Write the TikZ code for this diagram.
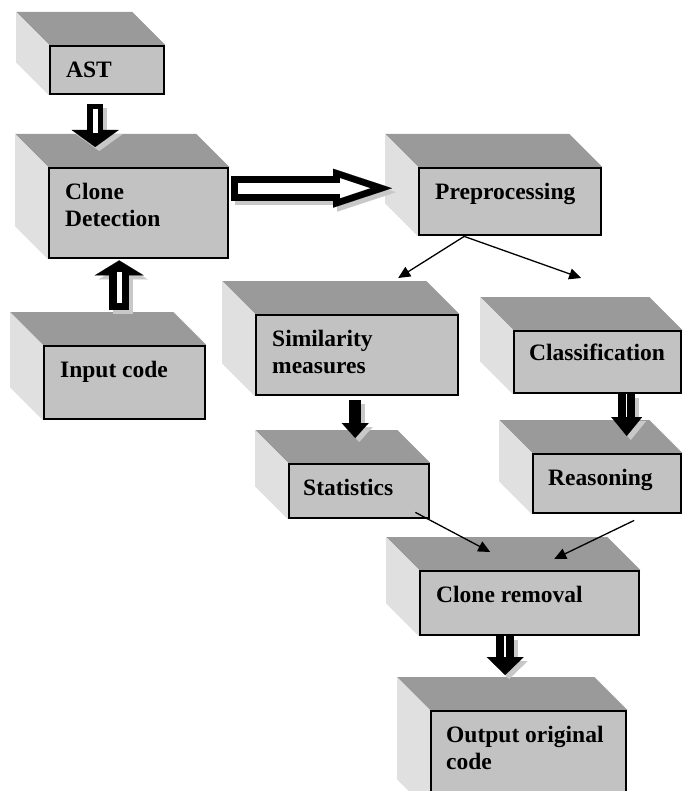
\documentclass[tikz,border=0pt]{standalone}
\usepackage{fontspec}
\setmainfont{Liberation Serif}
\usetikzlibrary{positioning,calc,arrows.meta,backgrounds}
\definecolor{frontgray}{HTML}{C2C2C2}
\definecolor{topgray}{HTML}{9A9A9A}
\definecolor{sidegray}{HTML}{E0E0E0}
\definecolor{shadowgray}{HTML}{C8C8C8}

\begin{document}
\begin{tikzpicture}[x=1pt, y=1pt,
    box/.style={draw=black, line width=2.4pt, fill=frontgray, anchor=north west, inner sep=0pt},
    lbl/.style={font=\fontsize{23.5}{27}\selectfont\bfseries, align=left, inner sep=0pt},
    link/.style={line width=1.3pt, -{Triangle[length=12pt, width=11pt]}},
    ashadow/.style={draw=shadowgray, transform canvas={shift={(4pt,-4pt)}}}]
    \useasboundingbox (0,0) rectangle (682,-791);

    % boxes (front faces)
    \node[box, minimum width=114pt, minimum height=48pt] (ast) at (49,-45) {};
    \node[box, minimum width=179pt, minimum height=90pt] (detect) at (48,-167) {};
    \node[box, minimum width=182pt, minimum height=67pt] (pre) at (418,-167) {};
    \node[box, minimum width=161pt, minimum height=73pt] (input) at (43,-345) {};
    \node[box, minimum width=202pt, minimum height=80pt] (sim) at (255,-314) {};
    \node[box, minimum width=167pt, minimum height=62pt] (class) at (513,-330) {};
    \node[box, minimum width=140pt, minimum height=54pt] (stat) at (288,-463) {};
    \node[box, minimum width=148pt, minimum height=59pt] (reason) at (532,-453) {};
    \node[box, minimum width=219pt, minimum height=64pt] (remove) at (419,-570) {};
    \node[box, minimum width=195pt, minimum height=100pt] (output) at (430,-710) {};

    % top and left sides
    \begin{scope}[on background layer]
    \foreach \b in {ast,detect,pre,input,sim,class,stat,reason,remove,output} {
        \fill[topgray] (\b.north west) -- (\b.north east) -- ([shift={(-33,33)}]\b.north east) -- ([shift={(-33,33)}]\b.north west) -- cycle;
        \fill[sidegray] (\b.north west) -- (\b.south west) -- ([shift={(-33,33)}]\b.south west) -- ([shift={(-33,33)}]\b.north west) -- cycle;
    }
    \end{scope}

    % labels
    \node[lbl, below right=13pt and 17pt of ast.north west] (ast-l) {\strut AST};
    \node[lbl, below right=13pt and 17pt of detect.north west] (detect-l) {\strut Clone\\Detection};
    \node[lbl, below right=13pt and 17pt of pre.north west] (pre-l) {\strut Preprocessing};
    \node[lbl, below right=13pt and 17pt of input.north west] (input-l) {\strut Input code};
    \node[lbl, below right=13pt and 17pt of sim.north west] (sim-l) {\strut Similarity\\measures};
    \node[lbl, below right=11pt and 16pt of class.north west] (class-l) {\strut Classification};
    \node[lbl, below right=13pt and 15pt of stat.north west] (stat-l) {\strut Statistics};
    \node[lbl, below right=13pt and 16pt of reason.north west] (reason-l) {\strut Reasoning};
    \node[lbl, below right=13pt and 17pt of remove.north west] (remove-l) {\strut Clone removal};
    \node[lbl, below right=13pt and 16pt of output.north west] (output-l) {\strut Output original\\code};

    % block arrows
    \coordinate (a1s) at ($(ast.south)+(-12,-9)$);
    \coordinate (a1e) at ($(a1s |- detect.north)+(0,20)$);
    \draw[ashadow, line width=16pt, -{Triangle[length=17pt, width=47pt, line width=0.1pt]}] (a1s) -- (a1e);
    \draw[line width=16pt, -{Triangle[length=17pt, width=47pt, line width=0.1pt]}] (a1s) -- (a1e);
    \draw[white, line width=5pt, shorten <=5pt, shorten >=14pt] (a1s) -- (a1e);

    \coordinate (a2s) at ($(detect.east)+(2,25)$);
    \coordinate (a2e) at ($(a2s -| pre.west)+(-26,0)$);
    \draw[ashadow, line width=25pt, -{Triangle[length=59pt, width=39pt, line width=0.1pt]}] (a2s) -- (a2e);
    \draw[line width=25pt, -{Triangle[length=59pt, width=39pt, line width=0.1pt]}] (a2s) -- (a2e);
    \draw[white, line width=11pt, shorten <=7pt, shorten >=22pt, -{Triangle[length=30pt, width=20pt, line width=0.1pt]}] (a2s) -- (a2e);

    \coordinate (a3s) at ($(input.north)+(-5.5,35)$);
    \coordinate (a3e) at ($(a3s |- detect.south)+(0,-1)$);
    \draw[ashadow, line width=20pt, -{Triangle[length=15pt, width=49pt, line width=0.1pt]}] (a3s) -- (a3e);
    \draw[line width=20pt, -{Triangle[length=15pt, width=49pt, line width=0.1pt]}] (a3s) -- (a3e);
    \draw[white, line width=5pt, shorten <=7pt, shorten >=12pt] (a3s) -- (a3e);

    \coordinate (a4s) at ($(sim.south)+(-2,-4)$);
    \coordinate (a4e) at ($(a4s |- stat.north)+(0,25)$);
    \draw[ashadow, line width=12pt, -{Triangle[length=15pt, width=27pt, line width=0.1pt]}] (a4s) -- (a4e);
    \draw[line width=12pt, -{Triangle[length=15pt, width=27pt, line width=0.1pt]}] (a4s) -- (a4e);

    \coordinate (a5s) at ($(class.south)+(29,0)$);
    \coordinate (a5e) at ($(a5s |- reason.north)+(0,17)$);
    \draw[ashadow, line width=17pt, -{Triangle[length=19pt, width=31pt, line width=0.1pt]}] (a5s) -- (a5e);
    \draw[line width=17pt, -{Triangle[length=19pt, width=31pt, line width=0.1pt]}] (a5s) -- (a5e);
    \draw[white, line width=1.5pt, shorten >=19pt] (a5s) -- (a5e);

    \coordinate (a6s) at ($(remove.south)+(-24.5,0)$);
    \coordinate (a6e) at ($(a6s |- output.north)+(0,35)$);
    \draw[ashadow, line width=18pt, -{Triangle[length=18pt, width=37pt, line width=0.1pt]}] (a6s) -- (a6e);
    \draw[line width=18pt, -{Triangle[length=18pt, width=37pt, line width=0.1pt]}] (a6s) -- (a6e);
    \draw[white, line width=1.5pt, shorten >=18pt] (a6s) -- (a6e);

    % thin arrows
    \draw[link] ($(pre.south)+(-46,0)$) -- ($(sim.north)+(41,36)$);
    \draw[link] ($(pre.south)+(-46,0)$) -- ($(class.north)+(-16.5,52)$);
    \draw[link] ($(stat.south east)+(-15,7)$) -- ($(remove.north)+(-39.5,18)$);
    \draw[link] ($(reason.south)+(27,-6)$) -- ($(remove.north)+(24.5,11)$);
\end{tikzpicture}
\end{document}
